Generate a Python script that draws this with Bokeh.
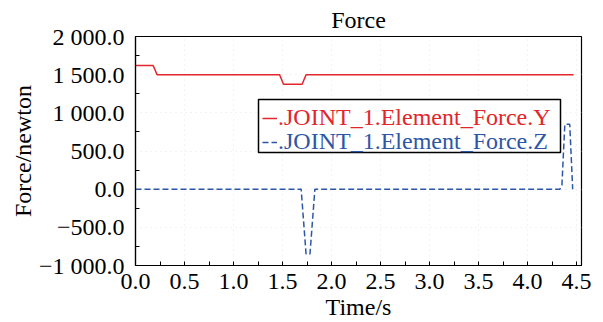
from bokeh.plotting import figure
from bokeh.models import FixedTicker, Legend, LegendItem, BoxAnnotation, Range1d
from bokeh.embed import file_html
from bokeh.resources import INLINE

# ---- data ----
title_text = "Force"
x_label = "Time/s"
y_label = "Force/newton"
name_y = ".JOINT_1.Element_Force.Y"
name_z = ".JOINT_1.Element_Force.Z"

time_y = [0.0, 0.18, 0.22, 1.47, 1.51, 1.70, 1.74, 4.47]
force_y = [1620, 1620, 1500, 1500, 1375, 1375, 1500, 1500]

time_z = [0.0, 1.69, 1.74, 1.78, 1.83, 4.33, 4.35, 4.38, 4.43, 4.46]
force_z = [0, 0, -850, -850, 0, 0, 50, 850, 850, 0]

x_ticks = [0.0, 0.5, 1.0, 1.5, 2.0, 2.5, 3.0, 3.5, 4.0, 4.5]
x_tick_labels = ["0.0", "0.5", "1.0", "1.5", "2.0", "2.5", "3.0", "3.5", "4.0", "4.5"]
x_minor = [0.25, 0.75, 1.25, 1.75, 2.25, 2.75, 3.25, 3.75, 4.25]
y_ticks = [-1000, -500, 0, 500, 1000, 1500, 2000]
y_tick_labels = ["\u22121 000.0", "\u2212500.0", "0.0", "500.0", "1 000.0", "1 500.0", "2 000.0"]
y_minor = [-750, -250, 250, 750, 1250, 1750]

RED = "#e2262b"
BLUE = "#2d57a6"
FONT = "Liberation Serif"

p = figure(width=600, height=322,
           x_range=Range1d(0, 4.55), y_range=Range1d(-1000, 2000),
           output_backend="svg", toolbar_location=None,
           min_border_left=135, min_border_right=19,
           min_border_top=35, min_border_bottom=56,
           title=title_text)

p.background_fill_color = "white"
p.border_fill_color = "white"
p.outline_line_color = "black"
p.outline_line_width = 1.2

p.title.text_font = FONT
p.title.text_font_size = "24px"
p.title.text_font_style = "normal"
p.title.align = "center"
p.title.text_color = "black"
p.title.standoff = 8

for ax in (p.xaxis[0], p.yaxis[0]):
    ax.axis_line_color = "black"
    ax.axis_line_width = 1.2
    ax.major_label_text_font = FONT
    ax.major_label_text_font_size = "24px"
    ax.major_label_text_color = "black"
    ax.axis_label_text_font = FONT
    ax.axis_label_text_font_size = "24px"
    ax.axis_label_text_font_style = "normal"
    ax.axis_label_text_color = "black"
    ax.major_tick_out = 0
    ax.minor_tick_out = 0
    ax.major_tick_line_color = "black"
    ax.minor_tick_line_color = "black"

p.xaxis.ticker = FixedTicker(ticks=x_ticks, minor_ticks=x_minor)
p.xaxis.major_label_overrides = dict(zip(x_ticks, x_tick_labels))
p.xaxis.major_tick_in = 4
p.xaxis.minor_tick_in = 4
p.xaxis.major_label_standoff = 8
p.xaxis.axis_label = x_label
p.xaxis.axis_label_standoff = 2

p.yaxis.ticker = FixedTicker(ticks=y_ticks, minor_ticks=y_minor)
p.yaxis.major_label_overrides = dict(zip(y_ticks, y_tick_labels))
p.yaxis.major_tick_in = 0
p.yaxis.minor_tick_in = 4
p.yaxis.major_label_standoff = 11
p.yaxis.axis_label = y_label
p.yaxis.axis_label_standoff = 0

p.xgrid.grid_line_color = "#e6e6e6"
p.xgrid.grid_line_dash = "1 4"
p.ygrid.grid_line_color = "#e6e6e6"
p.ygrid.grid_line_dash = "1 4"

ry = p.line(time_y, force_y, line_color=RED, line_width=1.5)
rz = p.line(time_z, force_z, line_color=BLUE, line_width=1.5, line_dash="6 3")

box = BoxAnnotation(left=123, right=425, bottom=113, top=166,
                    left_units="screen", right_units="screen",
                    bottom_units="screen", top_units="screen",
                    fill_color="white", fill_alpha=1.0,
                    line_color="black", line_alpha=1.0, line_width=1.5)
p.add_layout(box)

def make_legend(item, color, loc):
    lg = Legend(items=[item], location=loc, orientation="vertical",
                padding=0, margin=0, spacing=0,
                glyph_width=15, glyph_height=22, label_height=22,
                label_standoff=1,
                label_text_font=FONT, label_text_font_size="24px",
                label_text_color=color,
                border_line_alpha=0, background_fill_alpha=0)
    return lg

leg_y = make_legend(LegendItem(label=name_y, renderers=[ry]), RED, (127, 134))
leg_z = make_legend(LegendItem(label=name_z, renderers=[rz]), BLUE, (127, 110))
p.add_layout(leg_y, "center")
p.add_layout(leg_z, "center")

open("out.html", "w").write(file_html(p, INLINE))
